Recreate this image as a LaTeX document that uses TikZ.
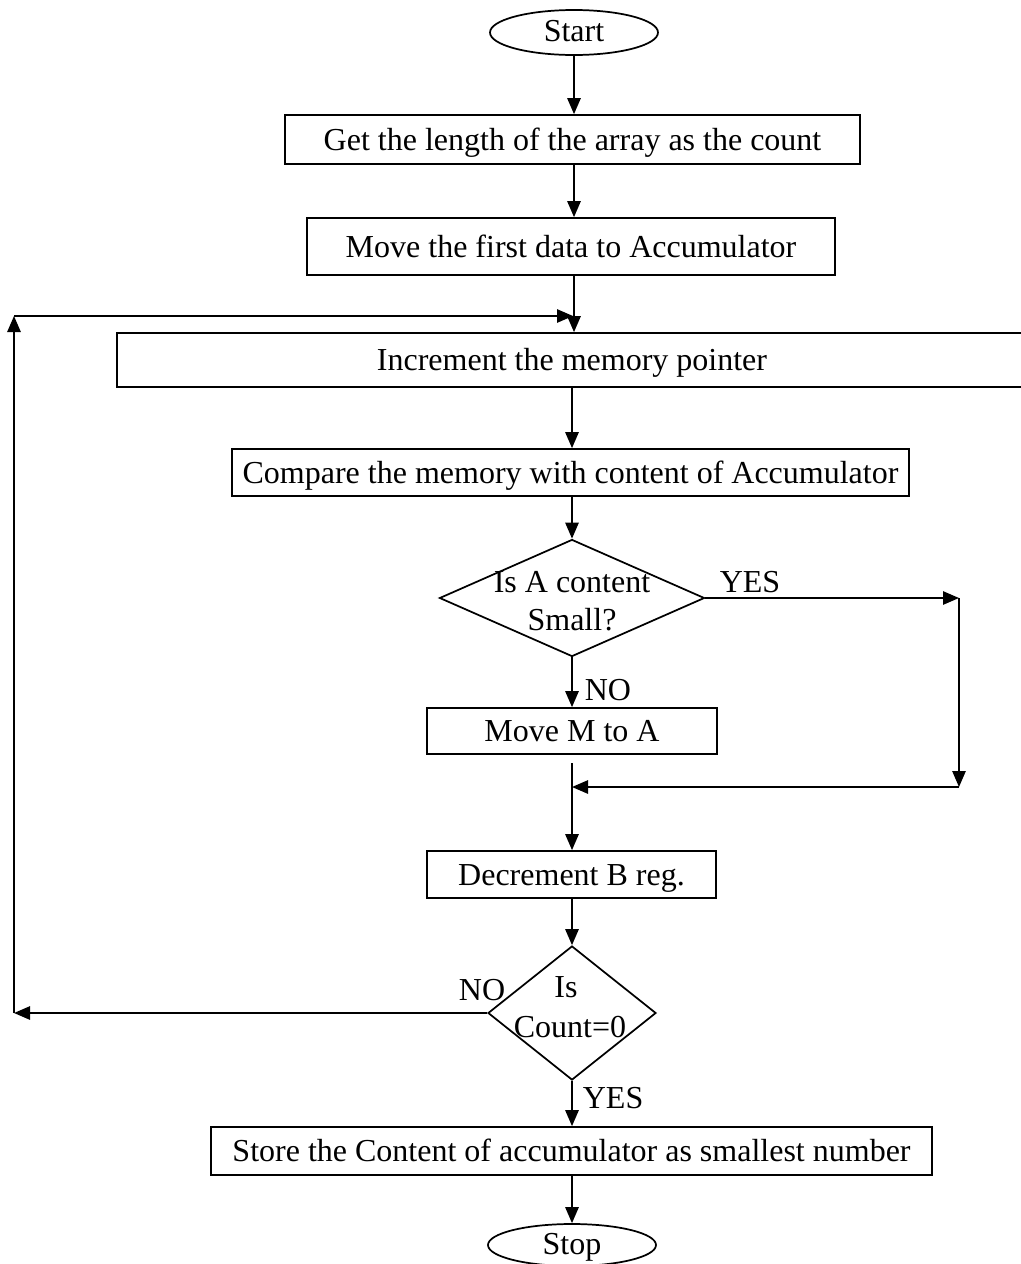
\documentclass[tikz,border=0pt]{standalone}
\usepackage{fontspec}
\setmainfont{Liberation Serif}
\usetikzlibrary{shapes.geometric,arrows.meta}
% text sits a little below the middle of its box
\newcommand\lowered[2][8pt]{\raisebox{-#1}[0pt][0pt]{#2}}

\begin{document}
\begin{tikzpicture}[x=0.75pt,y=-0.75pt,
  font=\fontsize{24}{28.5}\selectfont,
  line width=1.3pt,
  >={Triangle[length=12pt,width=10pt]},
  dims/.style 2 args={minimum width=#1*0.75pt,minimum height=#2*0.75pt},
  stepbox/.style={draw,rectangle,inner sep=0pt},
  terminal/.style={draw,ellipse,inner sep=0pt},
  decision/.style={draw,diamond,inner sep=0pt},
  flow/.style={->},
  tag/.style={inner sep=0pt,anchor=base}]

\useasboundingbox (0,0) rectangle (1021,1264);
\clip (0,0) rectangle (1021,1264);

% process steps
\node[terminal,dims={168}{45}] (start) at (574,32.5) {\lowered[7pt]{Start}};
\node[stepbox,dims={575}{49}] (b1) at (572.5,139.5) {\lowered{Get the length of the array as the count}};
\node[stepbox,dims={528}{57}] (b2) at (571,246.5) {\lowered{Move the first data to Accumulator}};
\node[stepbox,dims={910}{54}] (b3) at (572,360) {\lowered{Increment the memory pointer}};
\node[stepbox,dims={677}{47}] (b4) at (570.5,472.5) {\lowered{Compare the memory with content of Accumulator}};
\node[decision,dims={265}{117}] (q1) at (572,598) {};
\node[stepbox,dims={290}{46}] (b5) at (572,731) {\lowered{Move M to A}};
\node[stepbox,dims={289}{47}] (b6) at (571.5,874.5) {\lowered{Decrement B reg.}};
\node[decision,dims={168}{134}] (q2) at (572,1013) {};
\node[stepbox,dims={721}{48}] (b7) at (571.5,1151) {\lowered{Store the Content of accumulator as smallest number}};
\node[terminal,dims={168}{42}] (stop) at (572,1245) {\lowered[7pt]{Stop}};

% decision texts
\node[tag] (q1a) at (572,592) {Is A content};
\node[tag] (q1b) at (572,630) {Small?};
\node[tag] (q2a) at (566,997) {Is};
\node[tag] (q2b) at (570,1037) {Count=0};

% branch labels
\node[tag] (yes1) at (750,592) {YES};
\node[tag,anchor=base west] (no1) at (584,700) {NO};
\node[tag] (no2) at (482,1000) {NO};
\node[tag,anchor=base west] (yes2) at (582,1108) {YES};

% routing points
\coordinate (loopin) at (573,316);
\coordinate (looptop) at (14,316);
\coordinate (loopbot) at (14,1013);
\coordinate (yesc) at (959,598);
\coordinate (yesd) at (959,787);
\coordinate (join) at (572,787);
\coordinate (joinst) at (572,763);

% main flow
\draw[flow] (start.south) -- (start.south |- b1.north);
\draw[flow] (start.south |- b1.south) -- (start.south |- b2.north);
\draw[flow] (start.south |- b2.south) -- (start.south |- b3.north);
\draw[flow] (q1.north |- b3.south) -- (q1.north |- b4.north);
\draw[flow] (q1.north |- b4.south) -- (q1.north);
\draw[flow] (q1.south) -- (b5.north);
\draw[flow] (q1.east) -- (yesc);
\draw[flow] (yesc) -- (yesd);
\draw[flow] (yesd) -- (join);
\draw[flow] (joinst) -- (joinst |- b6.north);
\draw[flow] (q2.north |- b6.south) -- (q2.north);
\draw[flow] (q2.south) -- (q2.south |- b7.north);
\draw[flow] (q2.south |- b7.south) -- (stop.north);

% loop back
\draw[flow] (q2.west) -- (loopbot);
\draw[flow] (loopbot) -- (looptop);
\draw[flow] (looptop) -- (loopin);
\end{tikzpicture}
\end{document}
